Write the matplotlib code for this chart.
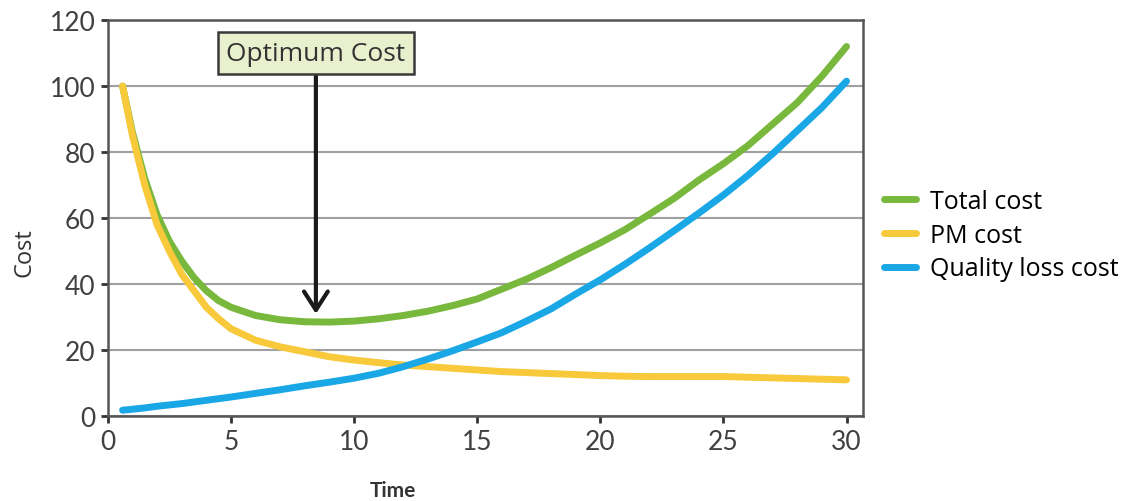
import matplotlib.pyplot as plt

# cost curves over time
time = [0.6, 1, 1.5, 2, 2.5, 3, 3.5, 4, 4.5, 5, 6, 7, 8, 9, 10, 11, 12, 13, 14, 15,
        16, 17, 18, 19, 20, 21, 22, 23, 24, 25, 26, 27, 28, 29, 30]
total_cost = [100, 86, 72, 61, 53, 47, 42, 38, 35, 33, 30.5, 29.2, 28.6, 28.5, 28.8,
              29.5, 30.5, 31.8, 33.5, 35.5, 38.5, 41.5, 45, 48.8, 52.5, 56.5, 61.2,
              66, 71.5, 76.5, 82, 88.5, 95, 103, 112]
pm_cost = [100, 85, 70, 58, 50, 43, 38, 33, 29.5, 26.5, 23, 21, 19.5, 18, 17, 16.2,
           15.5, 15, 14.5, 14, 13.5, 13.2, 12.9, 12.6, 12.3, 12.1, 12, 12, 12, 12,
           11.8, 11.6, 11.4, 11.2, 11]
quality_cost = [1.8, 2.1, 2.5, 3, 3.4, 3.8, 4.3, 4.8, 5.3, 5.8, 6.9, 8, 9.2, 10.3,
                11.5, 13, 15, 17.3, 19.8, 22.5, 25.3, 28.8, 32.5, 37, 41.3, 46, 51,
                56.2, 61.5, 67, 73, 79.5, 86.5, 93.5, 101.5]

opt_time = 8.45
opt_cost = 31

fig = plt.figure(figsize=(11.47, 5.02), dpi=100)
ax = fig.add_axes([0.094, 0.169, 0.658, 0.789])

ax.plot(time, total_cost, color='#78b83c', lw=5, solid_capstyle='round',
        label='Total cost', zorder=3)
ax.plot(time, pm_cost, color='#f8c93a', lw=5, solid_capstyle='round',
        label='PM cost', zorder=4)
ax.plot(time, quality_cost, color='#1aa7e6', lw=5, solid_capstyle='round',
        label='Quality loss cost', zorder=5)

ax.set_xlim(0, 30.65)
ax.set_ylim(0, 120)
ax.set_xticks(range(0, 31, 5))
ax.set_yticks(range(0, 121, 20))
ax.yaxis.grid(True, color='#a0a0a0', lw=1.5)
ax.set_axisbelow(True)
for s in ax.spines.values():
    s.set_color('#555555')
    s.set_linewidth(1.8)
ax.tick_params(colors='#333333', width=2, length=5, labelsize=19, pad=4)
for lbl in ax.get_xticklabels() + ax.get_yticklabels():
    lbl.set_family('Lato')
    lbl.set_color('#404040')

fig.text(0.021, 0.496, 'Cost', rotation=90, ha='center', va='center',
         fontsize=17, family='Open Sans', color='#333333')
fig.text(0.343, 0.022, 'Time', ha='center', va='center', fontsize=15,
         family='Lato', fontweight='bold', color='#333333')

ax.annotate('Optimum Cost', xy=(opt_time, opt_cost), xytext=(opt_time, 110),
            ha='center', va='center', fontsize=19, family='Open Sans', color='#333333',
            bbox=dict(boxstyle='square,pad=0.32', fc='#e9f0cd', ec='#3a3a3a', lw=1.8),
            arrowprops=dict(arrowstyle='->,head_length=0.7,head_width=0.45',
                            color='#1a1a1a', lw=3, shrinkA=0, shrinkB=0),
            zorder=6)

leg = ax.legend(loc='center left', bbox_to_anchor=(0.998, 0.457), frameon=False,
                prop={'family': 'Open Sans', 'size': 18}, handlelength=1.3,
                handletextpad=0.55, labelspacing=0.35)
for line in leg.get_lines():
    line.set_linewidth(5)

fig.savefig('out.png', dpi=100)
